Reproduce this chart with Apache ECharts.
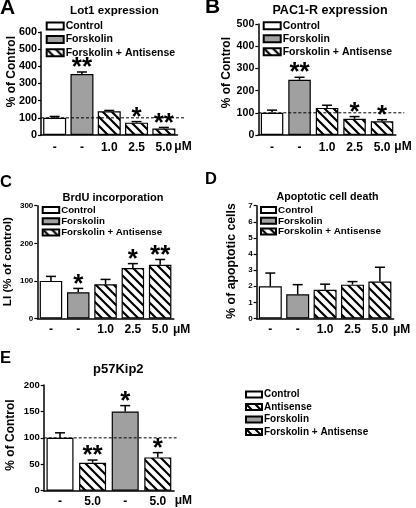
<!DOCTYPE html>
<html>
<head>
<meta charset="utf-8">
<script src="https://cdn.jsdelivr.net/npm/echarts@6/dist/echarts.min.js"></script>
<style>html,body{margin:0;padding:0;background:#fff}#c{width:416px;height:508px}</style>
</head>
<body>
<div id="c"></div>
<script>
// ---------- DATA ----------
// Panel A: Lot1 expression
const catsA = ['-', '-', '1.0', '2.5', '5.0'];
const ctrlA = [100, '-', '-', '-', '-'];
const forA  = ['-', 355, '-', '-', '-'];
const fasA  = ['-', '-', 138, 72, 38];
const errA  = [8, 12, 5, 6, 6];
const starsA = [0, 2, 0, 1, 2];
// Panel B: PAC1-R expression
const catsB = ['-', '-', '1.0', '2.5', '5.0'];
const ctrlB = [100, '-', '-', '-', '-'];
const forB  = ['-', 249, '-', '-', '-'];
const fasB  = ['-', '-', 122, 73, 62];
const errB  = [12, 11, 12, 10, 7];
const starsB = [0, 2, 0, 1, 1];
// Panel C: BrdU incorporation
const catsC = ['-', '-', '1.0', '2.5', '5.0'];
const ctrlC = [100, '-', '-', '-', '-'];
const forC  = ['-', 70, '-', '-', '-'];
const fasC  = ['-', '-', 91, 134, 143];
const errC  = [12, 10, 13, 12, 14];
const starsC = [0, 1, 0, 1, 2];
// Panel D: Apoptotic cell death
const catsD = ['-', '-', '1.0', '2.5', '5.0'];
const ctrlD = [2.0, '-', '-', '-', '-'];
const forD  = ['-', 1.5, '-', '-', '-'];
const fasD  = ['-', '-', 1.78, 2.1, 2.3];
const errD  = [0.82, 0.6, 0.35, 0.19, 0.88];
const starsD = [0, 0, 0, 0, 0];
// Panel E: p57Kip2
const catsE = ['-', '5.0', '-', '5.0'];
const ctrlE = [100, '-', '-', '-'];
const antiE = ['-', 53, '-', '-'];
const forE  = ['-', '-', 150, '-'];
const fasE  = ['-', '-', '-', 63];
const errE  = [9.5, 5, 11, 9];
const starsE = [0, 2, 1, 1];

const ticksA = {min: 0, max: 600, interval: 100};
const ticksB = {min: 0, max: 500, interval: 100};
const ticksC = {min: 0, max: 300, interval: 100};
const ticksD = {min: 0, max: 7, interval: 1};
const ticksE = {min: 0, max: 200, interval: 50};

// ---------- STYLE ----------
const FF = '"Liberation Sans", Arial, sans-serif';
const GRAY = '#a0a0a0';

function hatchPattern() {
  const s = 9;
  const c = document.createElement('canvas');
  c.width = s; c.height = s;
  const g = c.getContext('2d');
  g.fillStyle = '#fff'; g.fillRect(0, 0, s, s);
  g.strokeStyle = '#000'; g.lineWidth = 2.2; g.lineCap = 'square';
  g.beginPath();
  g.moveTo(-2, -2); g.lineTo(s + 2, s + 2);
  g.moveTo(s - 3, -3); g.lineTo(s + 3, 3);
  g.moveTo(-3, s - 3); g.lineTo(3, s + 3);
  g.stroke();
  return {image: c, repeat: 'repeat'};
}
const HATCH = hatchPattern();

const chart = echarts.init(document.getElementById('c'), null, {renderer: 'canvas'});

const grids = [
  {left: 41, top: 32, width: 136.5, height: 103},
  {left: 258.3, top: 24, width: 137.5, height: 111},
  {left: 37.3, top: 205.7, width: 136.5, height: 112.8},
  {left: 256.6, top: 205.7, width: 137, height: 112.8},
  {left: 43.7, top: 385, width: 130.4, height: 105.7}
];
const tickFont = [10.8, 10.6, 8, 8, 9.5];
const xMargin = [6.5, 6.5, 5.5, 5.5, 5];
const cats = [catsA, catsB, catsC, catsD, catsE];
const ticks = [ticksA, ticksB, ticksC, ticksD, ticksE];

const xAxes = cats.map((c, i) => ({
  type: 'category', gridIndex: i, data: c,
  axisLine: {lineStyle: {color: '#000', width: 1.5}},
  axisTick: {show: false},
  axisLabel: {interval: 0, color: '#000', fontWeight: 'bold', fontFamily: FF, fontSize: 12, margin: xMargin[i]}
}));
const yAxes = ticks.map((t, i) => ({
  type: 'value', gridIndex: i, min: t.min, max: t.max, interval: t.interval,
  axisLine: {show: true, lineStyle: {color: '#000', width: 1.5}},
  axisTick: {show: true, length: 3, lineStyle: {color: '#000', width: 1.2}},
  splitLine: {show: false},
  axisLabel: {color: '#000', fontWeight: 'bold', fontFamily: FF, fontSize: tickFont[i], margin: 4}
}));

const series = [];
const barW = [23, 22.5, 22.5, 23, 27];
function barSeries(gi, name, data, kind) {
  const style = {borderColor: '#000', borderWidth: 1.2};
  if (kind === 'white') style.color = '#fff';
  else if (kind === 'gray') style.color = GRAY;
  else style.color = HATCH;
  series.push({
    type: 'bar', name: name, xAxisIndex: gi, yAxisIndex: gi, data: data,
    barWidth: barW[gi], barGap: '-100%', itemStyle: style, z: 2, silent: true
  });
}
function merge() {
  const arrs = Array.from(arguments);
  return arrs[0].map((_, i) => { for (const a of arrs) if (a[i] !== '-') return a[i]; return 0; });
}
function errSeries(gi, means, errs, stars) {
  series.push({
    type: 'custom', xAxisIndex: gi, yAxisIndex: gi, z: 4, silent: true,
    data: means.map((m, i) => [i, m, errs[i], stars[i]]),
    renderItem: function (params, api) {
      const i = api.value(0), m = api.value(1), e = api.value(2), s = api.value(3);
      const p0 = api.coord([i, m]);
      const p1 = api.coord([i, m + e]);
      const ch = [
        {type: 'line', shape: {x1: p0[0], y1: p0[1], x2: p1[0], y2: p1[1]}, style: {stroke: '#000', lineWidth: 1.5}},
        {type: 'line', shape: {x1: p1[0] - 5, y1: p1[1], x2: p1[0] + 5, y2: p1[1]}, style: {stroke: '#000', lineWidth: 1.5}}
      ];
      if (s > 0) {
        ch.push({type: 'text', x: p1[0], y: p1[1] - 4,
          style: {text: '*'.repeat(s), fill: '#000', font: 'bold 26px ' + FF, textAlign: 'center', textVerticalAlign: 'middle'}});
      }
      return {type: 'group', children: ch};
    }
  });
}
function refLine(gi, val, ext) {
  series.push({
    type: 'custom', xAxisIndex: gi, yAxisIndex: gi, z: 5, silent: true,
    data: [[0, val]],
    renderItem: function (params, api) {
      const cs = params.coordSys;
      const y = api.coord([0, api.value(1)])[1];
      return {type: 'line', shape: {x1: cs.x, y1: y, x2: cs.x + cs.width + ext, y2: y},
        style: {stroke: '#000', lineWidth: 1, lineDash: [3, 2]}};
    }
  });
}

// A
barSeries(0, 'Control', ctrlA, 'white');
barSeries(0, 'Forskolin', forA, 'gray');
barSeries(0, 'Forskolin + Antisense', fasA, 'hatch');
errSeries(0, merge(ctrlA, forA, fasA), errA, starsA);
refLine(0, 100, 8);
// B
barSeries(1, 'Control', ctrlB, 'white');
barSeries(1, 'Forskolin', forB, 'gray');
barSeries(1, 'Forskolin + Antisense', fasB, 'hatch');
errSeries(1, merge(ctrlB, forB, fasB), errB, starsB);
refLine(1, 100, 8.5);
// C
barSeries(2, 'Control', ctrlC, 'white');
barSeries(2, 'Forskolin', forC, 'gray');
barSeries(2, 'Forskolin + Antisense', fasC, 'hatch');
errSeries(2, merge(ctrlC, forC, fasC), errC, starsC);
// D
barSeries(3, 'Control', ctrlD, 'white');
barSeries(3, 'Forskolin', forD, 'gray');
barSeries(3, 'Forskolin + Antisense', fasD, 'hatch');
errSeries(3, merge(ctrlD, forD, fasD), errD, starsD);
// E
barSeries(4, 'Control', ctrlE, 'white');
barSeries(4, 'Antisense', antiE, 'hatch');
barSeries(4, 'Forskolin', forE, 'gray');
barSeries(4, 'Forskolin + Antisense', fasE, 'hatch');
errSeries(4, merge(ctrlE, antiE, forE, fasE), errE, starsE);
refLine(4, 100, 2.5);

function legend(left, top, iw, ih, fs, lh, gap, data) {
  return {
    orient: 'vertical', left: left, top: top, padding: 0, itemWidth: iw, itemHeight: ih,
    itemGap: gap, icon: 'rect', selectedMode: false, data: data,
    textStyle: {color: '#000', fontWeight: 'bold', fontFamily: FF, fontSize: fs, lineHeight: lh, padding: [0, 0, 0, -3]}
  };
}
const legA = ['Control', 'Forskolin', 'Forskolin + Antisense'];
const legE = ['Control', 'Antisense', 'Forskolin', 'Forskolin + Antisense'];

function T(text, x, y, size, align, rot) {
  return {type: 'text', x: x, y: y, rotation: rot || 0, silent: true,
    style: {text: text, fill: '#000', font: 'bold ' + size + 'px ' + FF,
      textAlign: align || 'center', textVerticalAlign: 'middle'}};
}
const R = Math.PI / 2;
const graphic = [
  T('A', 0, 8, 21, 'left'), T('B', 205, 7.5, 21, 'left'),
  T('C', 0, 182, 16.5, 'left'), T('D', 205, 179.5, 16.5, 'left'), T('E', 0, 358.5, 16.5, 'left'),
  T('Lot1 expression', 114.5, 10.5, 11.6), T('PAC1-R expression', 330, 10.5, 12.5),
  T('BrdU incorporation', 113, 197.5, 11), T('Apoptotic cell death', 327.5, 196.7, 10.7),
  T('p57Kip2', 118.3, 369, 13),
  T('% of Control', 11.7, 71.7, 12, 'center', R), T('% of Control', 226.7, 72.7, 12, 'center', R),
  T('LI (% of control)', 8, 261.7, 11.7, 'center', R), T('% of apoptotic cells', 231.5, 261, 12.3, 'center', R),
  T('% of Control', 10.5, 435, 12, 'center', R),
  T('\u03bcM', 183, 147, 12), T('\u03bcM', 403, 147, 12), T('\u03bcM', 181.7, 330, 12),
  T('\u03bcM', 401.7, 330, 12), T('\u03bcM', 183.3, 500.7, 12)
];

chart.setOption({
  animation: false,
  backgroundColor: '#fff',
  grid: grids.map(g => Object.assign({containLabel: false, outerBoundsMode: 'none'}, g)),
  xAxis: xAxes,
  yAxis: yAxes,
  legend: [
    legend(45.7, 20.5, 17, 7, 10.5, 11, 2.4, legA),
    legend(262.7, 20.2, 17, 7, 10.5, 11, 2, legA),
    legend(41.7, 205, 16.5, 6, 9.7, 10, 1.2, legA),
    legend(260, 205, 15, 6, 9.9, 10, 0.8, legA),
    legend(245, 389.5, 16, 6, 10, 10, 2.5, legE)
  ],
  series: series,
  graphic: graphic
});
</script>
</body>
</html>
